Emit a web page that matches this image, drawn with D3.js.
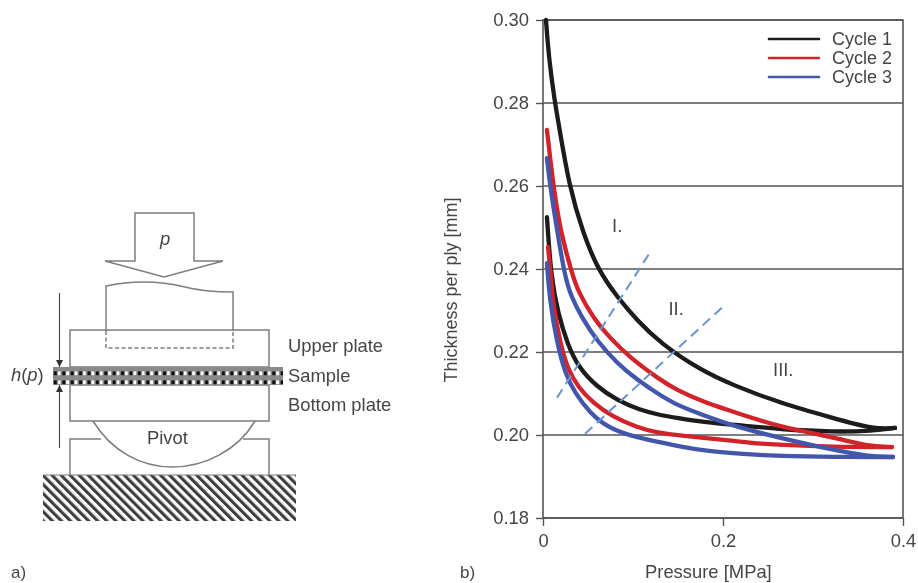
<!DOCTYPE html>
<html>
<head>
<meta charset="utf-8">
<script src="https://cdn.jsdelivr.net/npm/d3@7"></script>
<style>
  html, body { margin: 0; padding: 0; background: #fff; }
  svg { display: block; }
  text { font-family: "Liberation Sans", Arial, sans-serif; fill: #454545; }
</style>
</head>
<body>
<div id="chart"></div>
<script>
// all curves: [pressure MPa, thickness mm]
const cycle1Up = [[.0033,.3000],[.0067,.2904],[.0133,.2800],[.0167,.2759],[.0289,.2600],[.0444,.2487],[.0611,.2398],[.0833,.2330],[.1044,.2277],[.13,.2222],[.1744,.2157],[.2111,.2120],[.2633,.2077],[.3222,.2041],[.3667,.2014],[.3911,.2017]];
const cycle1Down = [[.0044,.2525],[.0089,.2381],[.0167,.2294],[.0267,.2222],[.0389,.2164],[.06,.2116],[.0822,.2084],[.1078,.2060],[.13,.2048],[.1489,.2041],[.1778,.2031],[.2156,.2024],[.2633,.2014],[.3222,.2007],[.3667,.2010],[.3911,.2017]];
const cycle2Up = [[.0044,.2735],[.0111,.2607],[.0189,.2494],[.0333,.2381],[.0389,.2347],[.0556,.2282],[.0744,.2234],[.0967,.2186],[.13,.2133],[.1489,.2108],[.1778,.2080],[.2156,.2053],[.2633,.2019],[.3222,.1995],[.36,.1973],[.3878,.1971]];
const cycle2Down = [[.0056,.2453],[.0089,.2381],[.0111,.2318],[.0189,.2222],[.0278,.2157],[.0389,.2116],[.0556,.2077],[.0778,.2043],[.1044,.2019],[.1267,.2005],[.1556,.1998],[.1933,.1990],[.23,.1981],[.2633,.1976],[.3222,.1971],[.3878,.1971]];
const cycle3Up = [[.0044,.2667],[.0078,.2602],[.0156,.2494],[.0244,.2381],[.0311,.2335],[.0433,.2282],[.06,.2227],[.0822,.2173],[.1044,.2133],[.13,.2096],[.1489,.2072],[.1778,.2048],[.2156,.2019],[.2633,.1993],[.3222,.1964],[.36,.1949],[.3889,.1947]];
const cycle3Down = [[.0044,.2414],[.0078,.2318],[.0156,.2222],[.0244,.2149],[.0356,.2101],[.0522,.2053],[.0711,.2019],[.0967,.1998],[.1267,.1984],[.1556,.1971],[.1822,.1961],[.2222,.1954],[.2633,.1949],[.3222,.1947],[.3889,.1947]];

const boundaryA = [[.0156,.209],[.1189,.244]];
const boundaryB = [[.0467,.2003],[.1989,.2307]];

const regionLabels = ["I.", "II.", "III."];
const regionPos = [[.0767,.2488],[.1394,.2290],[.2556,.2143]];

const seriesNames = ["Cycle 1", "Cycle 2", "Cycle 3"];
const seriesColors = ["#1a1a1a", "#d2232a", "#4356ac"];

const xTicks = [0, 0.2, 0.4];
const yTicks = [0.18, 0.20, 0.22, 0.24, 0.26, 0.28, 0.30];

const lineColor = "#7d7d7d";
const axisColor = "#555";

let svg = d3.select("#chart")
    .append("svg")
        .attr("width", 918)
        .attr("height", 583);

let defs = svg.append("defs");

// ground hatching
let hatch = defs.append("pattern")
    .attr("id", "hatch")
    .attr("patternUnits", "userSpaceOnUse")
    .attr("width", 6.4)
    .attr("height", 6.4)
    .attr("patternTransform", "rotate(-45)");
hatch.append("rect")
    .attr("width", 3.1)
    .attr("height", 6.4)
    .attr("fill", "#3c3c3c");

// sample weave
let weave = defs.append("pattern")
    .attr("id", "weave")
    .attr("patternUnits", "userSpaceOnUse")
    .attr("x", 53)
    .attr("y", 367)
    .attr("width", 8.4)
    .attr("height", 9);
weave.append("rect")
    .attr("width", 8.4)
    .attr("height", 9)
    .attr("fill", "#8a8a8a");
weave.append("rect")
    .attr("x", 0.8)
    .attr("y", 4.4)
    .attr("width", 3.2)
    .attr("height", 3.8)
    .attr("fill", "#111");
weave.append("rect")
    .attr("x", 4.8)
    .attr("y", 4.4)
    .attr("width", 2.8)
    .attr("height", 3.8)
    .attr("fill", "#fff");

defs.append("marker")
    .attr("id", "arrowHead")
    .attr("viewBox", "0 0 8 8")
    .attr("refX", 8)
    .attr("refY", 4)
    .attr("markerWidth", 7)
    .attr("markerHeight", 7)
    .attr("markerUnits", "userSpaceOnUse")
    .attr("orient", "auto")
    .append("path")
        .attr("d", "M0,0 L8,4 L0,8 Z")
        .attr("fill", "#333");

// the scan is soft, keep a touch of that
let soft = defs.append("filter").attr("id", "soft");
soft.append("feGaussianBlur").attr("stdDeviation", 0.5);

let root = svg.append("g").attr("filter", "url(#soft)");

// a) test rig sketch
let rig = root.append("g")
    .attr("fill", "none")
    .attr("stroke", lineColor)
    .attr("stroke-width", 1.5);

rig.append("path").attr("d", "M135,213 H194 V261 H223 L164,277 L105,261 H135 Z");
rig.append("path").attr("d", "M106,331 V286 C135,280 160,281 185,287 C200,291 215,292 233,292 V331");
rig.append("rect").attr("x", 70).attr("y", 330).attr("width", 199).attr("height", 37);
rig.append("path")
    .attr("d", "M106,331 V348 H233 V331")
    .attr("stroke-dasharray", "4,2.5");
rig.append("rect").attr("x", 70).attr("y", 385).attr("width", 199).attr("height", 36);
rig.append("path").attr("d", "M93,421 C112,452 142,467 172,467 C205,467 238,450 255,421");
rig.append("path").attr("d", "M70,475 V439 H101 M243,439 H269 V475");

root.append("rect")
    .attr("x", 53)
    .attr("y", 367)
    .attr("width", 230)
    .attr("height", 18)
    .attr("fill", "url(#weave)");

root.append("rect")
    .attr("x", 43)
    .attr("y", 475)
    .attr("width", 253)
    .attr("height", 46)
    .attr("fill", "url(#hatch)");

root.append("line")
    .attr("x1", 43).attr("x2", 296)
    .attr("y1", 475).attr("y2", 475)
    .attr("stroke", lineColor)
    .attr("stroke-width", 1.2);

root.append("line")
    .attr("x1", 59.5).attr("x2", 59.5)
    .attr("y1", 293).attr("y2", 367)
    .attr("stroke", "#444")
    .attr("stroke-width", 1.1)
    .attr("marker-end", "url(#arrowHead)");
root.append("line")
    .attr("x1", 59.5).attr("x2", 59.5)
    .attr("y1", 448).attr("y2", 385)
    .attr("stroke", "#444")
    .attr("stroke-width", 1.1)
    .attr("marker-end", "url(#arrowHead)");

let labelFont = 18.4;
let addText = function(x, y, str) {
    return root.append("text")
        .attr("x", x)
        .attr("y", y)
        .attr("font-size", labelFont)
        .text(str);
};

addText(288, 352, "Upper plate");
addText(288, 382, "Sample");
addText(288, 411, "Bottom plate");
addText(147, 444, "Pivot");
addText(160, 245, "p").attr("font-style", "italic");
let hp = addText(11, 381, "");
hp.append("tspan").attr("font-style", "italic").text("h");
hp.append("tspan").text("(");
hp.append("tspan").attr("font-style", "italic").text("p");
hp.append("tspan").text(")");
addText(11, 578, "a)").attr("font-size", 17);
addText(460, 578, "b)").attr("font-size", 17);

// b) thickness vs pressure
let margin = {top: 20, right: 15, bottom: 65, left: 543},
    width = 918 - margin.left - margin.right,
    height = 583 - margin.top - margin.bottom;

let plot = root.append("g")
    .attr("transform", `translate(${margin.left},${margin.top})`);

let x = d3.scaleLinear()
    .domain([0, 0.4])
    .range([0, width]);

let y = d3.scaleLinear()
    .domain([0.18, 0.30])
    .range([height, 0]);

// gridlines first, the curves sit on top
plot.append("g")
    .selectAll("line")
    .data(yTicks)
    .enter()
    .append("line")
        .attr("x1", 0)
        .attr("x2", width)
        .attr("y1", d => y(d))
        .attr("y2", d => y(d))
        .attr("stroke", axisColor)
        .attr("stroke-width", 1.4);

plot.append("rect")
    .attr("width", width)
    .attr("height", height)
    .attr("fill", "none")
    .attr("stroke", axisColor)
    .attr("stroke-width", 1.6);

let yAxis = plot.append("g")
    .call(d3.axisLeft(y).tickValues(yTicks).tickFormat(d3.format(".2f")).tickSize(7).tickPadding(7));

let xAxis = plot.append("g")
    .attr("transform", `translate(0,${height})`)
    .call(d3.axisBottom(x).tickValues(xTicks).tickFormat(d => d === 0 ? "0" : d3.format(".1f")(d)).tickSize(8).tickPadding(8));

[xAxis, yAxis].forEach(axis => {
    axis.select(".domain").remove();
    axis.attr("font-family", null);
    axis.selectAll("line").attr("stroke", axisColor).attr("stroke-width", 1.4);
    axis.selectAll("text")
        .attr("font-size", labelFont)
        .style("fill", "#454545");
});

let line = d3.line()
    .x(d => x(d[0]))
    .y(d => y(d[1]))
    .curve(d3.curveBasis);

let curves = [
    [cycle1Up, 0], [cycle1Down, 0],
    [cycle2Up, 1], [cycle2Down, 1],
    [cycle3Up, 2], [cycle3Down, 2]
];

plot.append("g")
    .selectAll("path")
    .data(curves)
    .enter()
    .append("path")
        .attr("fill", "none")
        .attr("stroke", d => seriesColors[d[1]])
        .attr("stroke-width", 4.3)
        .attr("stroke-linecap", "round")
        .attr("d", d => line(d[0]));

plot.append("g")
    .selectAll("path")
    .data([boundaryA, boundaryB])
    .enter()
    .append("path")
        .attr("fill", "none")
        .attr("stroke", "#6b93cf")
        .attr("stroke-width", 2)
        .attr("stroke-dasharray", "10,6")
        .attr("d", d => d3.line().x(e => x(e[0])).y(e => y(e[1]))(d));

plot.append("g")
    .selectAll("text")
    .data(regionLabels)
    .enter()
    .append("text")
        .attr("x", (d, i) => x(regionPos[i][0]))
        .attr("y", (d, i) => y(regionPos[i][1]))
        .attr("font-size", labelFont)
        .text(d => d);

// legend
let legend = plot.append("g")
    .selectAll("g")
    .data(seriesNames)
    .enter()
    .append("g")
        .attr("transform", (d, i) => `translate(226,${19 + i * 19})`);

legend.append("line")
    .attr("x1", 0)
    .attr("x2", 50)
    .attr("stroke", (d, i) => seriesColors[i])
    .attr("stroke-width", 2.6)
    .attr("stroke-linecap", "round");

legend.append("text")
    .attr("x", 63)
    .attr("y", 6)
    .attr("font-size", 18)
    .text(d => d);

// axis titles
addText(645, 578, "Pressure [MPa]");
root.append("text")
    .attr("transform", "translate(457,290) rotate(-90)")
    .attr("text-anchor", "middle")
    .attr("font-size", 18)
    .text("Thickness per ply [mm]");
</script>
</body>
</html>
